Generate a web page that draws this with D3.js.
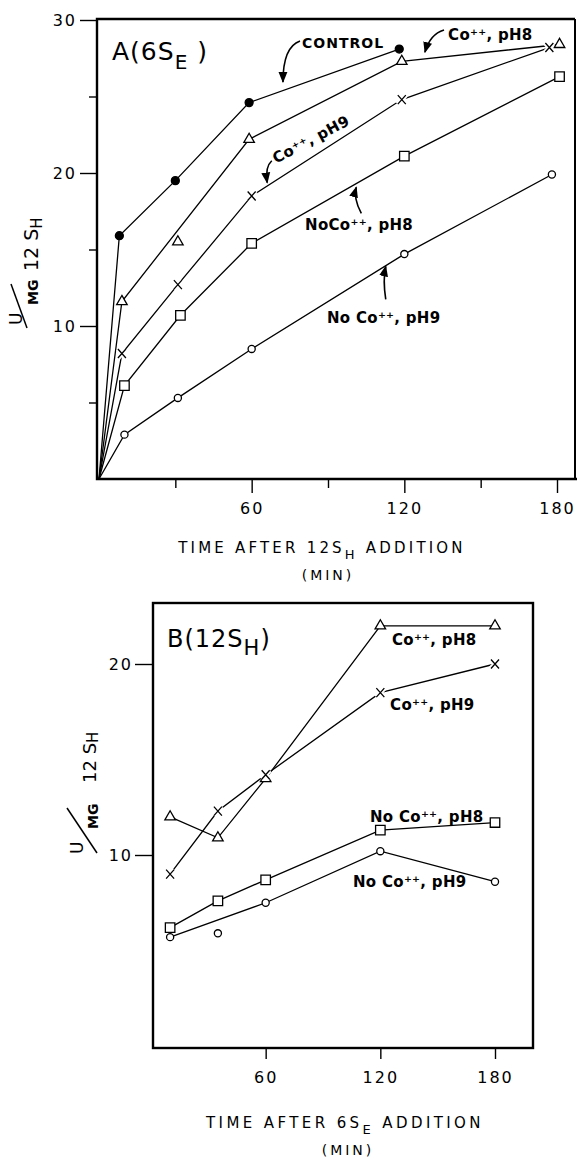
<!DOCTYPE html>
<head>
<meta charset="utf-8">
<script src="https://d3js.org/d3.v7.min.js"></script>
<style>
  body { margin: 0; background: #fff; }
  svg { display: block; }
  text { font-family: "DejaVu Sans", sans-serif; fill: #000; }
</style>
</head>
<body>
<script>
// panel A (6S_E): time after 12S_H addition, per-series times
const aControlT = [0, 8, 30, 59, 118],
      aControlV = [0, 15.9, 19.5, 24.6, 28.1];
const aCo8T = [0, 9, 31, 59, 119, 181],
      aCo8V = [0, 11.6, 15.5, 22.2, 27.3, 28.4];
const aCo9T = [0, 9, 31, 60, 119, 177],
      aCo9V = [0, 8.2, 12.7, 18.5, 24.8, 28.2];
const aNo8T = [0, 10, 32, 60, 120, 181],
      aNo8V = [0, 6.1, 10.7, 15.4, 21.1, 26.3];
const aNo9T = [0, 10, 31, 60, 120, 178],
      aNo9V = [0, 2.9, 5.3, 8.5, 14.7, 19.9];

// panel B (12S_H): time after 6S_E addition
const bT = [10, 35, 60, 120, 180];
const bCo8V = [12.0, 10.9, 14.0, 22.0, 22.0],
      bCo9V = [9.0, 12.3, 14.2, 18.5, 20.0],
      bNo8V = [6.2, 7.6, 8.7, 11.3, 11.7],
      bNo9V = [5.7, 5.9, 7.5, 10.2, 8.6];

const aXTicks = [60, 120, 180], aXMinor = [30, 90, 150],
      aYTicks = [10, 20, 30], aYMinor = [5, 15, 25],
      bXTicks = [60, 120, 180], bYTicks = [10, 20];

// labels: [text, t, v, angle]
const aLabels = [
  ["CONTROL", 79.8, 28.17, 0],
  ["Co⁺⁺, pH8", 137.2, 28.69, 0],
  ["Co⁺⁺, pH9", 69.6, 20.6, -28],
  ["NoCo⁺⁺, pH8", 81, 16.3, 0],
  ["No Co⁺⁺, pH9", 89.6, 10.2, 0]
];
// arrows: start, control, tip (t, v)
const aArrows = [
  [79.0, 28.63, 72.3, 28.24, 72.3, 25.95],
  [135.6, 29.35, 130.1, 29.08, 128.1, 27.9],
  [67.9, 20.8, 65.2, 20.4, 66.1, 19.37],
  [103.1, 17.36, 99.9, 18.35, 101.1, 19.07],
  [112.7, 11.74, 111.5, 13.0, 112.7, 13.9]
];
const bLabels = [
  ["Co⁺⁺, pH8", 126.1, 21.0],
  ["Co⁺⁺, pH9", 125.1, 17.6],
  ["No Co⁺⁺, pH8", 114.6, 11.73],
  ["No Co⁺⁺, pH9", 105.7, 8.33]
];

const svg = d3.select("body").append("svg").attr("width", 577).attr("height", 1158);

const xA = d3.scaleLinear().domain([0, 180]).range([99, 557]),
      yA = d3.scaleLinear().domain([0, 30]).range([479, 20]),
      xB = d3.scaleLinear().domain([0, 180]).range([151, 495]),
      yB = d3.scaleLinear().domain([0, 20]).range([1046, 664]);

svg.append("defs").append("marker")
  .attr("id", "head").attr("viewBox", "0 0 10 10")
  .attr("refX", 9).attr("refY", 5)
  .attr("markerWidth", 7).attr("markerHeight", 7)
  .attr("orient", "auto")
  .append("path").attr("d", "M0,1 L10,5 L0,9 Z").attr("fill", "#000");

function symbolPath(kind) {
  if (kind === "tri") return d3.symbol(d3.symbolTriangle, 48)();
  if (kind === "sq") return d3.symbol(d3.symbolSquare, 90)();
  if (kind === "x") return "M-4,-4.5L4,4.5M-4,4.5L4,-4.5";
  return d3.symbol(d3.symbolCircle, kind === "dot" ? 50 : 40)();
}

function drawSeries(g, x, y, ts, vs, kind, skip) {
  const pts = ts.map((t, i) => [t, vs[i], i]);
  const line = d3.line().x(d => x(d[0])).y(d => y(d[1]));
  g.append("path")
    .attr("d", line(pts.filter(d => !skip.includes(d[2]))))
    .attr("fill", "none").attr("stroke", "#000").attr("stroke-width", 1.3);
  const m = g.selectAll(null).data(pts.filter(d => d[0] > 0)).enter();
  if (kind === "x") {
    m.append("path").attr("d", symbolPath("x"))
      .attr("transform", d => `translate(${x(d[0])},${y(d[1])})`)
      .attr("stroke", "#fff").attr("stroke-width", 5).attr("fill", "none");
  }
  m.append("path").attr("d", symbolPath(kind))
    .attr("transform", d => `translate(${x(d[0])},${y(d[1])})`)
    .attr("fill", kind === "dot" ? "#000" : (kind === "x" ? "none" : "#fff"))
    .attr("stroke", "#000").attr("stroke-width", 1.3);
}

function styleAxis(g) {
  g.select(".domain").remove();
  g.selectAll("line").attr("stroke", "#000").attr("stroke-width", 1.4);
  g.selectAll("text").attr("font-family", "DejaVu Sans").attr("font-size", 16)
    .attr("letter-spacing", 2).attr("fill", "#000");
}

// ---------------- panel A ----------------
const gA = svg.append("g");
gA.append("g").attr("transform", "translate(0,479)")
  .call(d3.axisBottom(xA).tickValues(aXTicks).tickSize(14).tickPadding(10).tickFormat(d3.format("d")))
  .call(styleAxis);
gA.append("g").attr("transform", "translate(0,479)")
  .call(d3.axisBottom(xA).tickValues(aXMinor).tickSize(9).tickFormat(""))
  .call(styleAxis);
gA.append("g").attr("transform", "translate(97,0)")
  .call(d3.axisLeft(yA).tickValues(aYTicks).tickSize(17).tickPadding(3).tickFormat(d3.format("d")))
  .call(styleAxis);
gA.append("g").attr("transform", "translate(97,0)")
  .call(d3.axisLeft(yA).tickValues(aYMinor).tickSize(8).tickFormat(""))
  .call(styleAxis);

gA.append("path").attr("d", "M575,19 L97,19 L97,479 L577,479")
  .attr("fill", "none").attr("stroke", "#000").attr("stroke-width", 2.4);
gA.append("line").attr("x1", 575).attr("x2", 575).attr("y1", 19).attr("y2", 479)
  .attr("stroke", "#000").attr("stroke-width", 2);

drawSeries(gA, xA, yA, aControlT, aControlV, "dot", []);
drawSeries(gA, xA, yA, aCo8T, aCo8V, "tri", [2]);
drawSeries(gA, xA, yA, aCo9T, aCo9V, "x", []);
drawSeries(gA, xA, yA, aNo8T, aNo8V, "sq", []);
drawSeries(gA, xA, yA, aNo9T, aNo9V, "circ", []);

aLabels.forEach(l => {
  gA.append("text")
    .attr("transform", `translate(${xA(l[1])},${yA(l[2])}) rotate(${l[3]})`)
    .attr("font-size", l[0] === "CONTROL" ? 14 : 15).attr("font-weight", "bold")
    .attr("letter-spacing", l[0] === "CONTROL" ? 1 : 0.3)
    .text(l[0]);
});
aArrows.forEach(a => {
  gA.append("path")
    .attr("d", `M${xA(a[0])},${yA(a[1])} Q${xA(a[2])},${yA(a[3])} ${xA(a[4])},${yA(a[5])}`)
    .attr("fill", "none").attr("stroke", "#000").attr("stroke-width", 1.6)
    .attr("marker-end", "url(#head)");
});

const tA = gA.append("text").attr("x", 112).attr("y", 60).attr("font-size", 25).attr("letter-spacing", 1);
tA.append("tspan").text("A(6S");
tA.append("tspan").attr("font-size", 20).attr("dy", 9).text("E");
tA.append("tspan").attr("dy", -9).text(" )");

// y label A
gA.append("text").attr("transform", "translate(38,271) rotate(-90)").attr("font-size", 19)
  .call(t => { t.append("tspan").text("12 S"); t.append("tspan").attr("font-size", 15).attr("dy", 4).text("H"); });
gA.append("text").attr("transform", "translate(38,305) rotate(-90)").attr("font-size", 14).attr("font-weight", "bold").text("MG");
gA.append("text").attr("transform", "translate(22,325) rotate(-90)").attr("font-size", 17).text("U");
gA.append("line").attr("x1", 11).attr("y1", 284).attr("x2", 27).attr("y2", 328)
  .attr("stroke", "#000").attr("stroke-width", 1.5);

const xtA = gA.append("text").attr("x", 322).attr("y", 553).attr("text-anchor", "middle")
  .attr("font-size", 15).attr("letter-spacing", 3.2);
xtA.append("tspan").text("TIME AFTER 12S");
xtA.append("tspan").attr("font-size", 13).attr("dy", 6).text("H");
xtA.append("tspan").attr("dy", -6).text(" ADDITION");
gA.append("text").attr("x", 328).attr("y", 580).attr("text-anchor", "middle")
  .attr("font-size", 14).attr("letter-spacing", 3).text("(MIN)");

// ---------------- panel B ----------------
const gB = svg.append("g");
gB.append("g").attr("transform", "translate(0,1048)")
  .call(d3.axisBottom(xB).tickValues(bXTicks).tickSize(11).tickPadding(13).tickFormat(d3.format("d")))
  .call(styleAxis);
gB.append("g").attr("transform", "translate(153,0)")
  .call(d3.axisLeft(yB).tickValues(bYTicks).tickSize(18).tickPadding(2).tickFormat(d3.format("d")))
  .call(styleAxis);
gB.append("rect").attr("x", 153).attr("y", 603).attr("width", 380).attr("height", 445)
  .attr("fill", "none").attr("stroke", "#000").attr("stroke-width", 2.4);

drawSeries(gB, xB, yB, bT, bCo8V, "tri", []);
drawSeries(gB, xB, yB, bT, bCo9V, "x", []);
drawSeries(gB, xB, yB, bT, bNo8V, "sq", []);
drawSeries(gB, xB, yB, bT, bNo9V, "circ", [1]);

bLabels.forEach(l => {
  gB.append("text").attr("x", xB(l[1])).attr("y", yB(l[2]))
    .attr("font-size", 15).attr("font-weight", "bold").attr("letter-spacing", 0.3)
    .text(l[0]);
});

const tB = gB.append("text").attr("x", 167).attr("y", 647).attr("font-size", 24).attr("letter-spacing", 1);
tB.append("tspan").text("B(12S");
tB.append("tspan").attr("font-size", 21).attr("dy", 8).text("H");
tB.append("tspan").attr("dy", -8).text(")");

// y label B
gB.append("text").attr("transform", "translate(96,783) rotate(-90)").attr("font-size", 18)
  .call(t => { t.append("tspan").text("12 S"); t.append("tspan").attr("font-size", 15).attr("dy", 2).text("H"); });
gB.append("text").attr("transform", "translate(98,829) rotate(-90)").attr("font-size", 14).attr("font-weight", "bold").text("MG");
gB.append("text").attr("transform", "translate(83,854) rotate(-90)").attr("font-size", 17).text("U");
gB.append("line").attr("x1", 67).attr("y1", 808).attr("x2", 97).attr("y2", 853)
  .attr("stroke", "#000").attr("stroke-width", 1.5);

const xtB = gB.append("text").attr("x", 345).attr("y", 1128).attr("text-anchor", "middle")
  .attr("font-size", 15).attr("letter-spacing", 3.4);
xtB.append("tspan").text("TIME AFTER 6S");
xtB.append("tspan").attr("font-size", 13).attr("dy", 6).text("E");
xtB.append("tspan").attr("dy", -6).text(" ADDITION");
gB.append("text").attr("x", 348).attr("y", 1155).attr("text-anchor", "middle")
  .attr("font-size", 14).attr("letter-spacing", 3).text("(MIN)");
</script>
</body>
